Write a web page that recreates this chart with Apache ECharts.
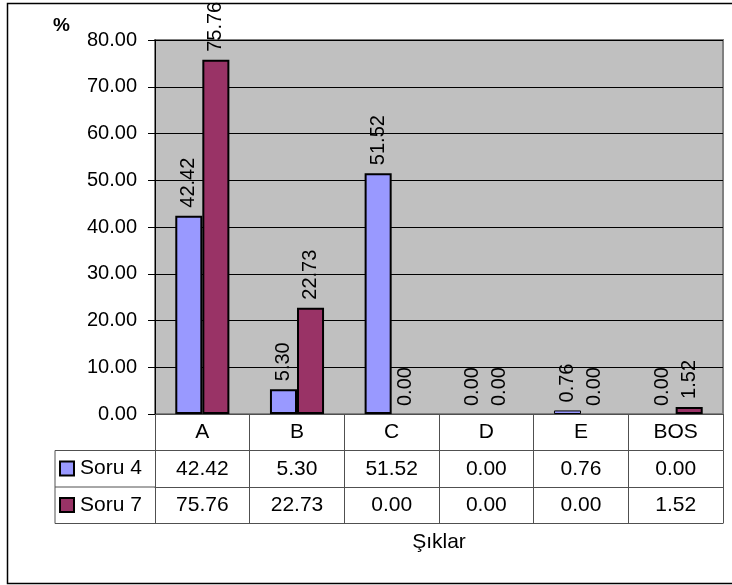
<!DOCTYPE html>
<html>
<head>
<meta charset="utf-8">
<script src="https://cdn.jsdelivr.net/npm/echarts@6/dist/echarts.min.js"></script>
<style>
  html, body { margin: 0; padding: 0; background: #fff; }
  #chart { width: 732px; height: 585px; }
</style>
</head>
<body>
<div id="chart"></div>
<script>
// Answer choices and percentage of answers for two questions
const categories = ['A', 'B', 'C', 'D', 'E', 'BOS'];
const soru4 = [42.42, 5.30, 51.52, 0.00, 0.76, 0.00];
const soru7 = [75.76, 22.73, 0.00, 0.00, 0.00, 1.52];
const seriesNames = ['Soru 4', 'Soru 7'];
const axisTitle = 'Şıklar';
const unitLabel = '%';

const FONT = "'Liberation Sans', Arial, sans-serif";
const FS_AXIS = 20;
const FS_TABLE = 21;
const FS_LABEL = 20;
const ROW = 36.5;
const GRID = { left: 155, right: 9, top: 40, bottom: 171 };
const W = 732, H = 585;
const plotL = GRID.left, plotR = W - GRID.right, plotB = H - GRID.bottom;
const tableL = 55;
const lineCol = '#505050';

const fmt = v => Number(v).toFixed(2);

const chart = echarts.init(document.getElementById('chart'), null, { renderer: 'canvas' });

function tableAxis(data, offset) {
  return {
    type: 'category',
    data: data,
    position: 'bottom',
    offset: offset,
    boundaryGap: true,
    axisLine: { show: true, lineStyle: { color: lineCol, width: 1 } },
    axisTick: { show: true, length: ROW, inside: false, alignWithLabel: false,
                lineStyle: { color: lineCol, width: 1 } },
    axisLabel: { show: true, interval: 0, margin: 8, fontSize: FS_TABLE, color: '#000', fontFamily: FONT },
    splitLine: { show: false }
  };
}

// zero-height bars carry no outline, very short bars a thinner one
const barData = values => values.map(v => v === 0
  ? { value: v, itemStyle: { borderWidth: 0 } }
  : (v < 1 ? { value: v, itemStyle: { borderWidth: 1 } } : v));

const barLabel = {
  show: true,
  position: 'top',
  rotate: 90,
  align: 'left',
  verticalAlign: 'middle',
  distance: 8,
  fontSize: FS_LABEL,
  color: '#000',
  fontFamily: FONT,
  formatter: p => fmt(p.value)
};

const option = {
  animation: false,
  backgroundColor: '#fff',
  textStyle: { fontFamily: FONT },
  title: {
    text: unitLabel,
    left: 48, top: 11,
    textStyle: { fontSize: 19, fontWeight: 'bold', color: '#000', fontFamily: FONT }
  },
  legend: {
    orient: 'vertical',
    left: 59, top: 458,
    padding: 0,
    itemWidth: 14, itemHeight: 14,
    itemGap: 15.5,
    icon: 'rect',
    itemStyle: { borderColor: '#000', borderWidth: 2 },
    textStyle: { fontSize: FS_TABLE, color: '#000', fontFamily: FONT, padding: [0, 0, 0, 1] },
    selectedMode: false,
    data: seriesNames
  },
  grid: {
    left: GRID.left, right: GRID.right, top: GRID.top, bottom: GRID.bottom,
    containLabel: false,
    outerBoundsMode: 'none',
    show: true,
    backgroundColor: '#C0C0C0',
    borderColor: '#808080',
    borderWidth: 2
  },
  xAxis: [
    tableAxis(categories, 0),
    tableAxis(soru4.map(fmt), ROW),
    tableAxis(soru7.map(fmt), ROW * 2)
  ],
  yAxis: {
    type: 'value',
    min: 0, max: 80, interval: 10,
    axisLine: { show: true, lineStyle: { color: '#000', width: 1 } },
    axisTick: { show: true, length: 7, inside: false, lineStyle: { color: '#000' } },
    axisLabel: { margin: 18, fontSize: FS_AXIS, color: '#000', fontFamily: FONT, formatter: v => fmt(v) },
    splitLine: { show: true, lineStyle: { color: '#000', width: 1 } }
  },
  series: [
    {
      name: seriesNames[0], type: 'bar', xAxisIndex: 0, data: barData(soru4),
      barGap: '0%', barCategoryGap: '42.86%',
      itemStyle: { color: '#9999FF', borderColor: '#000', borderWidth: 2 },
      label: barLabel
    },
    {
      name: seriesNames[1], type: 'bar', xAxisIndex: 0, data: barData(soru7),
      barGap: '0%', barCategoryGap: '42.86%',
      itemStyle: { color: '#993366', borderColor: '#000', borderWidth: 2 },
      label: barLabel
    }
  ],
  graphic: [
    // outer chart frame
    { type: 'rect', silent: true, z: 100,
      shape: { x: 7.5, y: 3.5, width: 740, height: 580 },
      style: { fill: null, stroke: '#000', lineWidth: 1.5 } },
    // data table: legend column and bottom border
    { type: 'line', silent: true, z: 100,
      shape: { x1: tableL, y1: plotB + ROW, x2: plotL, y2: plotB + ROW },
      style: { stroke: lineCol, lineWidth: 1 } },
    { type: 'line', silent: true, z: 100,
      shape: { x1: tableL, y1: plotB + ROW * 2, x2: plotL, y2: plotB + ROW * 2 },
      style: { stroke: lineCol, lineWidth: 1 } },
    { type: 'line', silent: true, z: 100,
      shape: { x1: tableL, y1: plotB + ROW * 3, x2: plotR, y2: plotB + ROW * 3 },
      style: { stroke: lineCol, lineWidth: 1 } },
    { type: 'line', silent: true, z: 100,
      shape: { x1: tableL, y1: plotB + ROW, x2: tableL, y2: plotB + ROW * 3 },
      style: { stroke: lineCol, lineWidth: 1 } },
    // horizontal axis title
    { type: 'text', silent: true, z: 100,
      x: (plotL + plotR) / 2, y: plotB + ROW * 3 + 8,
      style: { text: axisTitle, fontSize: FS_TABLE, fontFamily: FONT, fill: '#000', textAlign: 'center', textVerticalAlign: 'top' } }
  ]
};

chart.setOption(option);
</script>
</body>
</html>
